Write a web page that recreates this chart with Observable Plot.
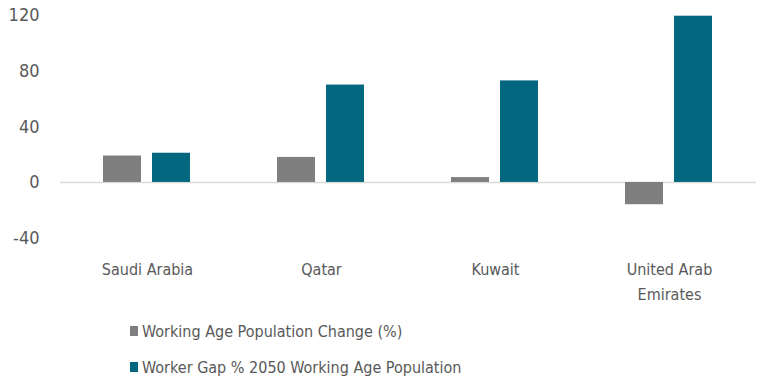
<!DOCTYPE html>
<html>
<head>
<meta charset="utf-8">
<script src="https://cdn.jsdelivr.net/npm/d3@7"></script>
<script src="https://cdn.jsdelivr.net/npm/@observablehq/plot@0.6"></script>
<style>
  html, body { margin: 0; padding: 0; background: #fff; }
  body { width: 768px; height: 389px; overflow: hidden; font-family: "DejaVu Sans Condensed", sans-serif; }
  #legend { position: absolute; left: 130px; top: 318px; color: #595959; font-size: 16px; }
  .item { display: flex; align-items: center; height: 26px; margin-bottom: 10px; }
  .sw { width: 8px; height: 10px; margin-right: 4px; }
</style>
</head>
<body>
<div id="chart"></div>
<div id="legend"></div>
<script>
const countries = ["Saudi Arabia", "Qatar", "Kuwait", "United Arab Emirates"];
const countryLabels = ["Saudi Arabia", "Qatar", "Kuwait", "United Arab\nEmirates"];
const seriesNames = ["Working Age Population Change (%)", "Worker Gap % 2050 Working Age Population"];
const workingAgeChange = [19, 18, 3.5, -16];
const workerGap = [21, 70, 73, 119.5];
const seriesColors = ["#7f7f7f", "#03677f"];
const yTicks = [-40, 0, 40, 80, 120];

const data = [];
countries.forEach((c, i) => {
  data.push({country: c, series: seriesNames[0], value: workingAgeChange[i]});
  data.push({country: c, series: seriesNames[1], value: workerGap[i]});
});

const labelOf = new Map(countries.map((c, i) => [c, countryLabels[i]]));

const chart = Plot.plot({
  width: 768,
  height: 308,
  marginLeft: 59,
  marginRight: 11,
  marginTop: 15,
  marginBottom: 70.4,
  style: {fontFamily: '"DejaVu Sans Condensed", sans-serif', color: "#595959", background: "#fff"},
  fx: {domain: countries, padding: 0},
  x: {domain: seriesNames, paddingInner: 0.22, paddingOuter: 0.855, axis: null},
  y: {domain: [-40, 120]},
  color: {domain: seriesNames, range: seriesColors},
  marks: [
    Plot.ruleY([0], {stroke: "#d9d9d9", strokeWidth: 1.5}),
    Plot.barY(data, {fx: "country", x: "series", y: "value", fill: "series"}),
    Plot.axisY({ticks: yTicks, tickSize: 0, tickPadding: 21, fontSize: 18, label: null, fill: "#595959", tickFormat: d => String(d)}),
    Plot.axisFx({anchor: "bottom", tickSize: 0, tickPadding: 19, fontSize: 16, lineHeight: 1.55, label: null, tickFormat: d => labelOf.get(d), fill: "#595959"})
  ]
});
document.getElementById("chart").appendChild(chart);

const legend = document.getElementById("legend");
seriesNames.forEach((s, i) => {
  const item = document.createElement("div");
  item.className = "item";
  const sw = document.createElement("span");
  sw.className = "sw";
  sw.style.background = seriesColors[i];
  const tx = document.createElement("span");
  tx.textContent = s;
  item.appendChild(sw);
  item.appendChild(tx);
  legend.appendChild(item);
});
</script>
</body>
</html>
